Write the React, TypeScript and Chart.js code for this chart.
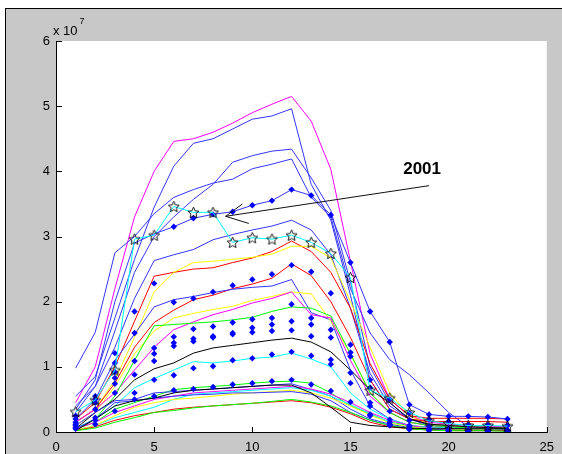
import React, { useEffect, useRef } from 'react';
import { Chart, registerables } from 'chart.js';

Chart.register(...registerables);

// ---------- data (values in units of 1e7) ----------
const hours = [1, 2, 3, 4, 5, 6, 7, 8, 9, 10, 11, 12, 13, 14, 15, 16, 17, 18, 19, 20, 21, 22, 23];
const xTickStep = 5;
const yTickStep = 1;

const year2001 = [0.31, 0.49, 0.95, 2.96, 3.02, 3.46, 3.37, 3.37, 2.91, 2.98, 2.96, 3.02, 2.91, 2.74, 2.37, 0.64, 0.52, 0.30, 0.17, 0.13, 0.10, 0.10, 0.09];

const blueDotted = [0.35, 0.8, 2.0, 2.9, 3.04, 3.15, 3.28, 3.34, 3.38, 3.48, 3.55, 3.72, 3.63, 3.33, 2.60, 1.85, 1.38, 0.42, 0.27, 0.24, 0.24, 0.23, 0.20];
const blueDottedShowFrom = 6;

const blueA = [0.98, 1.53, 2.75, 3.0, 3.35, 3.6, 3.72, 3.82, 3.88, 4.04, 4.11, 4.19, 3.6, 3.3, 2.2, 1.52, 1.11, 0.88, 0.6, 0.3, 0.08, 0.06, 0.05];
const blueB = [0.55, 0.85, 1.75, 2.65, 3.45, 4.08, 4.43, 4.5, 4.65, 4.8, 4.85, 4.96, 3.8, 3.25, 2.1, 0.8, 0.35, 0.2, 0.12, 0.1, 0.08, 0.07, 0.06];
const blueC = [0.3, 0.7, 1.55, 2.45, 3.0, 3.3, 3.57, 3.8, 4.14, 4.24, 4.31, 4.34, 3.9, 3.4, 2.3, 1.0, 0.45, 0.2, 0.12, 0.1, 0.08, 0.07, 0.06];
const blueD = [0.4, 0.7, 1.3, 2.05, 2.63, 2.72, 2.8, 2.95, 3.03, 3.1, 3.16, 3.25, 3.1, 2.72, 1.9, 0.9, 0.4, 0.2, 0.1, 0.08, 0.07, 0.06, 0.05];
const blueE = [0.2, 0.5, 1.1, 1.5, 1.92, 2.03, 2.08, 2.14, 2.19, 2.22, 2.24, 2.34, 1.83, 1.72, 0.95, 0.4, 0.2, 0.1, 0.07, 0.06, 0.05, 0.05, 0.04];
const blueF = [0.1, 0.3, 0.48, 0.5, 0.6, 0.62, 0.64, 0.66, 0.68, 0.7, 0.72, 0.74, 0.65, 0.55, 0.35, 0.2, 0.12, 0.07, 0.05, 0.04, 0.03, 0.03, 0.02];
const blueG = [0.05, 0.2, 0.45, 0.48, 0.52, 0.55, 0.57, 0.58, 0.6, 0.6, 0.61, 0.62, 0.58, 0.48, 0.3, 0.18, 0.1, 0.05, 0.04, 0.03, 0.02, 0.02, 0.02];

const magentaA = [0.45, 1.0, 2.2, 3.3, 4.0, 4.46, 4.5, 4.6, 4.74, 4.9, 5.03, 5.15, 4.77, 4.03, 2.62, 1.2, 0.5, 0.25, 0.15, 0.12, 0.1, 0.09, 0.08];
const magentaB = [0.15, 0.35, 0.6, 0.95, 1.3, 1.57, 1.69, 1.8, 1.88, 1.98, 2.05, 2.15, 1.8, 1.75, 1.1, 0.55, 0.3, 0.15, 0.1, 0.08, 0.07, 0.06, 0.05];
const magentaC = [0.05, 0.15, 0.3, 0.4, 0.5, 0.55, 0.6, 0.62, 0.64, 0.66, 0.68, 0.7, 0.66, 0.58, 0.45, 0.3, 0.18, 0.1, 0.06, 0.05, 0.04, 0.03, 0.03];

const redA = [0.2, 0.45, 1.0, 1.7, 2.39, 2.45, 2.5, 2.52, 2.6, 2.67, 2.77, 2.93, 2.77, 2.45, 1.9, 1.05, 0.5, 0.25, 0.21, 0.21, 0.21, 0.21, 0.2];
const redB = [0.15, 0.35, 0.75, 1.3, 1.68, 1.87, 2.03, 2.1, 2.2, 2.27, 2.36, 2.58, 2.4, 2.0, 1.45, 0.8, 0.35, 0.2, 0.16, 0.16, 0.16, 0.16, 0.15];
const redC = [0.02, 0.08, 0.18, 0.25, 0.3, 0.35, 0.38, 0.4, 0.42, 0.44, 0.46, 0.48, 0.45, 0.38, 0.28, 0.15, 0.08, 0.05, 0.03, 0.02, 0.02, 0.02, 0.02];

const yellowA = [0.15, 0.35, 0.8, 1.45, 2.15, 2.45, 2.6, 2.62, 2.65, 2.68, 2.73, 2.85, 2.85, 2.67, 2.0, 1.3, 0.6, 0.25, 0.12, 0.1, 0.08, 0.07, 0.06];
const yellowB = [0.1, 0.3, 0.7, 1.2, 1.55, 1.75, 1.82, 1.88, 1.93, 2.02, 2.08, 2.15, 2.12, 1.7, 1.2, 0.6, 0.3, 0.15, 0.1, 0.08, 0.06, 0.05, 0.05];
const yellowC = [0.03, 0.1, 0.25, 0.38, 0.45, 0.5, 0.52, 0.55, 0.58, 0.6, 0.62, 0.64, 0.6, 0.52, 0.4, 0.26, 0.14, 0.08, 0.05, 0.04, 0.03, 0.03, 0.02];

const greenA = [0.05, 0.2, 0.55, 1.1, 1.63, 1.65, 1.67, 1.69, 1.72, 1.76, 1.85, 1.92, 1.9, 1.78, 1.2, 0.6, 0.3, 0.15, 0.1, 0.08, 0.06, 0.05, 0.05];
const greenB = [0.05, 0.15, 0.35, 0.45, 0.55, 0.65, 0.68, 0.7, 0.72, 0.75, 0.77, 0.78, 0.75, 0.6, 0.4, 0.28, 0.15, 0.1, 0.06, 0.05, 0.04, 0.04, 0.03];
const greenC = [0.02, 0.06, 0.15, 0.22, 0.3, 0.33, 0.37, 0.4, 0.42, 0.44, 0.47, 0.5, 0.46, 0.4, 0.3, 0.18, 0.1, 0.05, 0.03, 0.02, 0.02, 0.02, 0.01];

const blackA = [0.05, 0.3, 0.5, 0.8, 0.97, 1.06, 1.21, 1.29, 1.33, 1.37, 1.41, 1.44, 1.38, 1.23, 0.95, 0.65, 0.45, 0.2, 0.12, 0.1, 0.08, 0.07, 0.06];
const blackB = [0.02, 0.2, 0.4, 0.48, 0.52, 0.6, 0.64, 0.66, 0.68, 0.7, 0.72, 0.72, 0.6, 0.38, 0.15, 0.1, 0.08, 0.06, 0.05, 0.05, 0.05, 0.05, 0.05];

const cyanA = [0.05, 0.2, 0.4, 0.68, 0.82, 0.95, 1.08, 1.06, 1.09, 1.13, 1.15, 1.21, 1.12, 1.0, 0.6, 0.35, 0.2, 0.1, 0.07, 0.06, 0.05, 0.04, 0.04];
const cyanB = [0.03, 0.1, 0.22, 0.3, 0.38, 0.5, 0.58, 0.6, 0.62, 0.64, 0.66, 0.68, 0.64, 0.55, 0.42, 0.28, 0.15, 0.08, 0.05, 0.04, 0.03, 0.03, 0.02];

// marker-only series (blue dots)
const dotsA = [0.25, 0.55, 1.21, 1.85, 2.28, 1.99, 2.05, 2.15, 2.25, 2.34, 2.42, 2.56, 2.46, 2.13, 1.34, 0.8, 0.5, 0.29, 0.19, 0.16, 0.11, 0.11, 0.1];
const dotsB = [0.2, 0.5, 1.06, 1.52, 1.29, 1.46, 1.58, 1.62, 1.68, 1.73, 1.75, 1.96, 1.75, 1.57, 1.22, 0.68, 0.32, 0.18, 0.09, 0.06, 0.03, 0.03, 0.03];
const dotsC = [0.15, 0.45, 0.92, 1.09, 1.2, 1.37, 1.43, 1.47, 1.52, 1.6, 1.65, 1.7, 1.65, 1.45, 1.16, 0.45, 0.19, 0.1, 0.05, 0.03, 0.02, 0.02, 0.02];
const dotsD = [0.12, 0.35, 0.83, 0.88, 1.09, 1.32, 1.39, 1.45, 1.5, 1.53, 1.55, 1.56, 1.47, 1.11, 0.91, 0.27, 0.15, 0.08, 0.04, 0.02, 0.02, 0.02, 0.02];
const dotsE = [0.1, 0.22, 0.74, 0.6, 0.8, 0.87, 0.98, 1.01, 1.1, 1.13, 1.19, 1.23, 1.17, 1.04, 0.75, 0.4, 0.12, 0.05, 0.03, 0.02, 0.01, 0.01, 0.01];
const dotsF = [0.05, 0.18, 0.6, 0.5, 0.55, 0.64, 0.66, 0.69, 0.73, 0.75, 0.78, 0.8, 0.73, 0.63, 0.46, 0.25, 0.1, 0.04, 0.02, 0.01, 0.01, 0.01, 0.01];
const dotsG = [0.07, 0.12, 0.32, null, null, null, null, null, null, null, null, null, null, null, null, null, null, null, null, null, null, null, null];

// annotation (data coordinates)
const annotationText = '2001';
const annotationTextAt = [18.65, 4.03];
const arrowFrom = [19.0, 3.78];
const arrowTo = [8.64, 3.31];
const arrowHeadA = [9.5, 3.5];
const arrowHeadB = [9.82, 3.2];
const exponentLabel = ['x 10', '7'];

const BLUE = '#0000ff';
const BLUE_LINE = '#3535ff';
const MAGENTA = '#ff00ff';
const RED = '#ff0000';
const YELLOW = '#ffff00';
const GREEN = '#00ff00';
const BLACK = '#000000';
const CYAN = '#00ffff';
const FONT = "'Liberation Sans', Arial, Helvetica, sans-serif";

function pts(vals: (number | null)[]) {
  return hours.map((h, i) => ({ x: h, y: vals[i] }));
}

function makeStar(): HTMLCanvasElement {
  const c = document.createElement('canvas');
  c.width = 13;
  c.height = 13;
  const g = c.getContext('2d')!;
  g.beginPath();
  for (let i = 0; i < 10; i++) {
    const r = i % 2 === 0 ? 5.8 : 2.7;
    const ang = -Math.PI / 2 + (i * Math.PI) / 5;
    const px = 6.5 + r * Math.cos(ang);
    const py = 7 + r * Math.sin(ang);
    if (i === 0) g.moveTo(px, py);
    else g.lineTo(px, py);
  }
  g.closePath();
  g.strokeStyle = '#000';
  g.lineWidth = 0.9;
  g.stroke();
  return c;
}

const framePlugin = {
  id: 'matlabFrame',
  beforeDraw(chart: any) {
    const { ctx, chartArea: a, width, height } = chart;
    ctx.save();
    ctx.fillStyle = '#ffffff';
    ctx.fillRect(0, 0, width, height);
    ctx.fillStyle = '#c8c8c8';
    ctx.fillRect(5, 8, width - 5, height - 8);
    ctx.fillStyle = '#000';
    ctx.fillRect(5, 8, width - 5, 1);
    ctx.fillRect(5, 8, 1, height - 8);
    ctx.fillStyle = '#ffffff';
    ctx.fillRect(a.left, a.top, a.right - a.left, a.bottom - a.top);
    ctx.restore();
  },
  afterDraw(chart: any) {
    const { ctx, chartArea: a } = chart;
    const xs = chart.scales.x;
    const ys = chart.scales.y;
    ctx.save();
    ctx.strokeStyle = '#000';
    ctx.lineWidth = 1;
    ctx.beginPath();
    // axes
    ctx.moveTo(a.left + 0.5, a.top);
    ctx.lineTo(a.left + 0.5, a.bottom + 1);
    ctx.moveTo(a.left, a.bottom + 0.5);
    ctx.lineTo(a.right + 1, a.bottom + 0.5);
    // inward ticks
    xs.ticks.forEach((t: any) => {
      const px = Math.round(xs.getPixelForValue(t.value)) + 0.5;
      ctx.moveTo(px, a.bottom);
      ctx.lineTo(px, a.bottom - 5);
    });
    ys.ticks.forEach((t: any) => {
      const py = Math.round(ys.getPixelForValue(t.value)) + 0.5;
      ctx.moveTo(a.left, py);
      ctx.lineTo(a.left + 6, py);
    });
    ctx.stroke();

    // exponent label
    ctx.fillStyle = '#000';
    ctx.textAlign = 'left';
    ctx.textBaseline = 'alphabetic';
    ctx.font = `13px ${FONT}`;
    ctx.fillText(exponentLabel[0], a.left - 3, a.top - 6);
    const w = ctx.measureText(exponentLabel[0]).width;
    ctx.font = `9px ${FONT}`;
    ctx.fillText(exponentLabel[1], a.left - 3 + w + 2, a.top - 17);

    // arrow annotation
    const P = (p: number[]) => [xs.getPixelForValue(p[0]), ys.getPixelForValue(p[1])];
    const f = P(arrowFrom), t = P(arrowTo), h1 = P(arrowHeadA), h2 = P(arrowHeadB);
    ctx.strokeStyle = '#111';
    ctx.beginPath();
    ctx.moveTo(f[0], f[1]);
    ctx.lineTo(t[0], t[1]);
    ctx.moveTo(h1[0], h1[1]);
    ctx.lineTo(t[0], t[1]);
    ctx.lineTo(h2[0], h2[1]);
    ctx.stroke();
    const l = P(annotationTextAt);
    ctx.font = `bold 17px ${FONT}`;
    ctx.textAlign = 'center';
    ctx.textBaseline = 'middle';
    ctx.fillText(annotationText, l[0], l[1]);
    ctx.restore();
  },
};

export default function App() {
  const ref = useRef<HTMLCanvasElement>(null);
  useEffect(() => {
    const canvas = ref.current;
    if (!canvas) return;
    const star = makeStar();
    const line = (vals: number[], color: string) => ({
      data: pts(vals),
      borderColor: color,
      backgroundColor: color,
      borderWidth: 1,
      pointRadius: 0,
      tension: 0,
      fill: false,
    });
    const dots = (vals: (number | null)[]) => ({
      data: pts(vals),
      showLine: false,
      pointStyle: 'rectRot',
      pointRadius: 3.2,
      pointBackgroundColor: BLUE,
      pointBorderColor: BLUE,
      pointBorderWidth: 0,
      borderColor: BLUE,
      backgroundColor: BLUE,
    });
    const datasets: any[] = [
      {
        data: pts(year2001),
        borderColor: CYAN,
        backgroundColor: 'transparent',
        borderWidth: 1,
        tension: 0,
        pointStyle: star,
        pointRadius: 5,
      },
      {
        data: pts(blueDotted),
        borderColor: BLUE_LINE,
        backgroundColor: BLUE,
        borderWidth: 1,
        tension: 0,
        pointStyle: 'rectRot',
        pointRadius: hours.map((h) => (h >= blueDottedShowFrom ? 3.2 : 0)),
        pointBackgroundColor: BLUE,
        pointBorderWidth: 0,
      },
      dots(dotsA),
      dots(dotsB),
      dots(dotsC),
      dots(dotsD),
      dots(dotsE),
      dots(dotsF),
      dots(dotsG),
      line(blackB, BLACK),
      line(greenC, GREEN),
      line(redC, RED),
      line(blueG, BLUE_LINE),
      line(yellowC, YELLOW),
      line(cyanB, CYAN),
      line(magentaC, MAGENTA),
      line(blueF, BLUE_LINE),
      line(greenB, GREEN),
      line(cyanA, CYAN),
      line(blackA, BLACK),
      line(greenA, GREEN),
      line(magentaB, MAGENTA),
      line(yellowB, YELLOW),
      line(blueE, BLUE_LINE),
      line(redB, RED),
      line(yellowA, YELLOW),
      line(redA, RED),
      line(blueD, BLUE_LINE),
      line(blueA, BLUE_LINE),
      line(blueC, BLUE_LINE),
      line(blueB, BLUE_LINE),
      line(magentaA, MAGENTA),
    ];
    const tickFont = { family: FONT, size: 13 };
    const chart = new Chart(canvas, {
      type: 'line',
      data: { datasets },
      options: {
        animation: false,
        responsive: false,
        devicePixelRatio: 1,
        events: [],
        layout: { padding: { left: 0, right: 12, top: 41, bottom: 0 } },
        plugins: { legend: { display: false }, tooltip: { enabled: false } },
        scales: {
          x: {
            type: 'linear',
            min: 0,
            max: 25,
            ticks: { stepSize: xTickStep, font: tickFont, color: '#000', padding: 8, maxRotation: 0 },
            grid: { display: false, drawTicks: false },
            border: { display: false },
            afterFit: (s: any) => {
              s.height = 22;
            },
          },
          y: {
            type: 'linear',
            min: 0,
            max: 6,
            ticks: { stepSize: yTickStep, font: tickFont, color: '#000', padding: 6 },
            grid: { display: false, drawTicks: false },
            border: { display: false },
            afterFit: (s: any) => {
              s.width = 56;
            },
          },
        },
      } as any,
      plugins: [framePlugin],
    });
    return () => chart.destroy();
  }, []);
  return (
    <div style={{ position: 'fixed', left: 0, top: 0, width: 562, height: 454 }}>
      <canvas ref={ref} width={562} height={454} style={{ display: 'block', width: 562, height: 454 }} />
    </div>
  );
}
